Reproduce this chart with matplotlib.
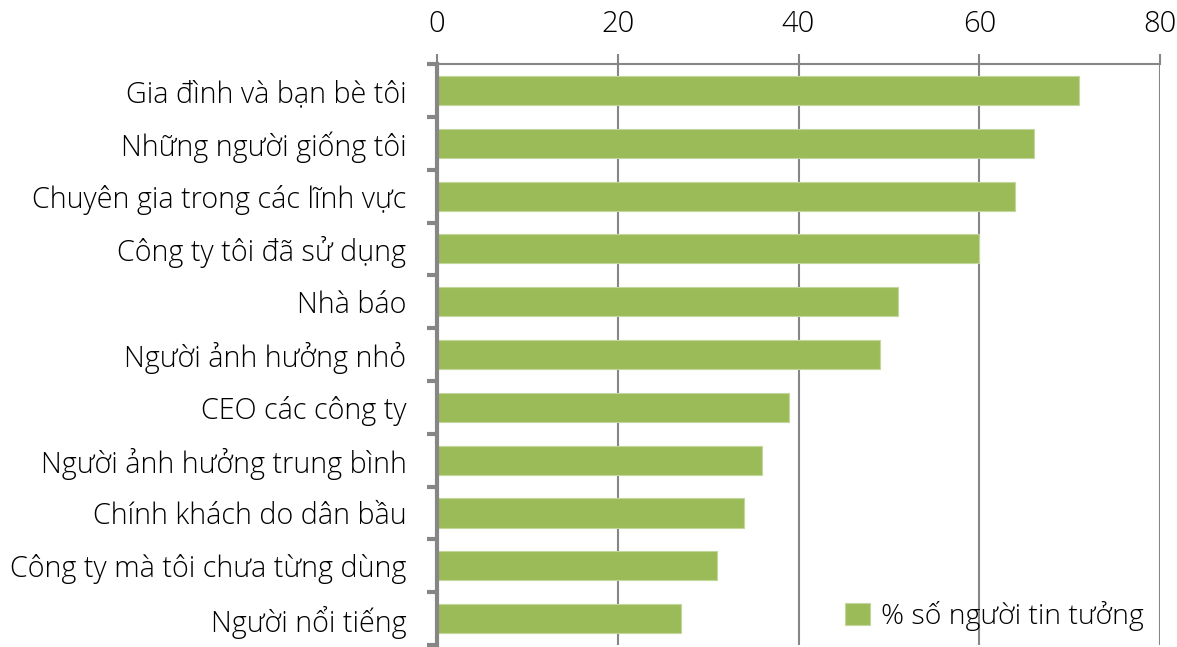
import matplotlib.pyplot as plt

# du lieu
nhom = ["Gia đình và bạn bè tôi", "Những người giống tôi", "Chuyên gia trong các lĩnh vực",
        "Công ty tôi đã sử dụng", "Nhà báo", "Người ảnh hưởng nhỏ", "CEO các công ty",
        "Người ảnh hưởng trung bình", "Chính khách do dân bầu",
        "Công ty mà tôi chưa từng dùng", "Người nổi tiếng"]
gia_tri = [71, 66, 64, 60, 51, 49, 39, 36, 34, 31, 27]
x_ticks = [0, 20, 40, 60, 80]
ten_chuoi = "% số người tin tưởng"

xanh = "#9BBB59"
xam = "#868686"

plt.rcParams['font.family'] = ['Open Sans', 'DejaVu Sans']
plt.rcParams['font.weight'] = 300

fig = plt.figure(figsize=(11.77, 6.47), dpi=100)
ax = fig.add_axes([0.3713, 0.003, 0.6143, 0.898])

y = list(range(len(nhom)))
ax.barh(y, gia_tri, height=0.55, color=xanh, edgecolor="#C3D69B",
        linewidth=0.8, label=ten_chuoi, zorder=3)

ax.set_xlim(0, 80)
ax.set_ylim(len(nhom) - 0.5, -0.5)
ax.set_xticks(x_ticks)
ax.xaxis.tick_top()
ax.tick_params(axis='x', length=7, width=1.5, color=xam, labelsize=21, pad=11)
ax.grid(axis='x', color=xam, linewidth=1.5, zorder=0)

# nhan danh muc, vach chia o ranh gioi
ax.set_yticks(y)
ax.set_yticklabels(nhom, fontsize=20.7)
ax.tick_params(axis='y', which='major', length=0, pad=22)
ax.set_yticks([i - 0.5 for i in range(len(nhom) + 1)], minor=True)
ax.tick_params(axis='y', which='minor', length=7, width=3, color=xam)

for s in ['right', 'bottom']:
    ax.spines[s].set_visible(False)
ax.spines['left'].set_color(xam)
ax.spines['left'].set_linewidth(3)
ax.spines['left'].set_zorder(4)
ax.spines['top'].set_color(xam)
ax.spines['top'].set_linewidth(1.5)

ax.legend(loc='lower right', frameon=False, fontsize=20.5, handlelength=0.85,
          handleheight=0.85, handletextpad=0.4, borderaxespad=0.1,
          bbox_to_anchor=(0.997, 0.0))

fig.savefig("out.png", dpi=100)
